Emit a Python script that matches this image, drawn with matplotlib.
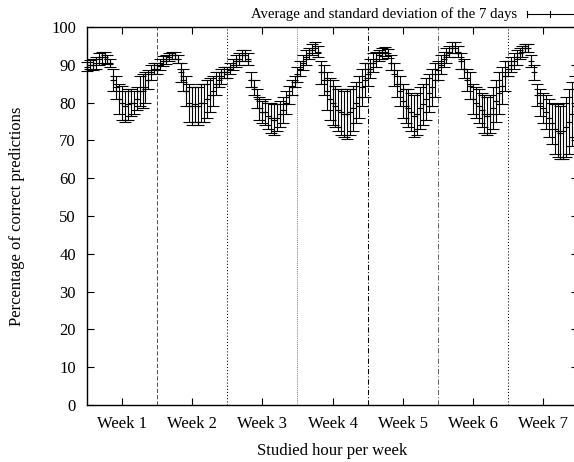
import numpy as np
import matplotlib
matplotlib.use("Agg")
import matplotlib.pyplot as plt
from matplotlib.lines import Line2D


plt.rcParams['font.family'] = ['Liberation Serif', 'DejaVu Serif']

week_labels = ["Week 1", "Week 2", "Week 3", "Week 4", "Week 5", "Week 6", "Week 7"]
hours_per_week = 24

# mean / std per hour, one list per week
w1_mean = [89.5, 90, 90, 90.5, 91.5, 92, 92, 91.5, 90.5, 86, 84, 81,
           80, 79, 79.5, 80, 80, 81, 83, 83, 84, 86, 88, 89]
w1_std = [1.2, 1.2, 1.5, 1.5, 1.5, 1.5, 1.5, 1.2, 1, 3, 3, 4,
          4.5, 4, 4, 3.5, 3, 3, 4, 4.5, 4, 2.5, 2, 1.5]
w2_mean = [89, 90, 91, 91.5, 92, 92.5, 92.5, 91.5, 88, 86, 83, 80,
           79, 79.5, 79, 80, 80, 81, 82, 83, 85, 86, 87, 88]
w2_std = [1.5, 1.5, 1.2, 1.2, 1, 1, 1, 1, 2.5, 3, 4, 5,
          5, 4.5, 5, 5, 5, 5, 4.5, 4, 3, 2, 2, 1.5]
w3_mean = [88, 89, 90, 91, 91.5, 92.5, 92.5, 91.5, 86, 84, 81, 78.5,
           77.5, 77.5, 76.5, 76, 75.5, 76, 77, 78, 80, 82, 84, 85.5]
w3_std = [1.5, 1.5, 1.5, 1.5, 1.5, 1.5, 1.5, 1.5, 2, 2, 2.5, 3,
          3, 3.5, 3.5, 4, 4, 3.5, 3.5, 3.5, 3, 2.5, 2, 1.5]
w4_mean = [87.5, 89, 90.5, 92, 93, 94, 94.5, 93.5, 88, 86, 83, 81,
           80, 79, 78, 77.5, 77, 77, 77.5, 78.5, 80, 81.5, 84, 86]
w4_std = [2, 2, 2, 2, 1.5, 1.5, 1.5, 1.5, 3, 4, 5, 5.5,
          6, 5.5, 5.5, 6, 6, 6.5, 6, 6, 5.5, 5.5, 5, 4.5]
w5_mean = [87.5, 89, 90.5, 91.5, 92.5, 93, 93.5, 93, 90.5, 87.5, 85, 83,
           80.5, 79, 78.5, 77.5, 76.5, 77, 78.5, 79.5, 81, 82.5, 84, 86]
w5_std = [3, 2.5, 2.5, 2, 1.5, 1.5, 1.2, 1.2, 2, 3, 3.5, 4,
          4.5, 4.5, 5, 5, 5.5, 5.5, 5.5, 5.5, 5.5, 5, 5, 4.5]
w6_mean = [88.5, 90, 91.5, 92.5, 93.5, 94.5, 94.5, 93.5, 91, 89, 86, 84.5,
           81, 80, 79, 78, 77, 76.5, 77, 78.5, 80.5, 82.5, 84.5, 87]
w6_std = [2.5, 2.5, 2, 2, 1.5, 1.5, 1.5, 1.5, 2, 2.5, 3, 3.5,
          4, 4, 4.5, 4.5, 5, 5, 5, 5.5, 5.5, 5.5, 5, 4]
w7_mean = [89, 90, 91, 92, 93, 93.5, 94.5, 94.5, 91, 88, 82, 80,
           78.5, 77.5, 76, 74.5, 73, 72.5, 72, 72.5, 73.5, 75, 77, 79]
w7_std = [2, 2, 2, 2, 1.5, 1.5, 1, 1, 1.5, 2, 3, 3.5,
          4, 4.5, 5, 5.5, 6.5, 7, 7, 7.5, 8, 8.5, 8.5, 8]

means = np.array(w1_mean + w2_mean + w3_mean + w4_mean + w5_mean + w6_mean + w7_mean)
stds = np.array(w1_std + w2_std + w3_std + w4_std + w5_std + w6_std + w7_std)
hours = np.arange(len(means))

# week separator styles (gnuplot-ish)
sep_styles = [((0, (4, 2)), "#555555"), ((0, (1, 2)), "black"), ((0, (1, 1)), "#888888"),
              ((0, (5, 2, 1, 2)), "black"), ((0, (5, 2, 1, 2)), "#666666"), ((0, (1, 2)), "black")]

fig = plt.figure(figsize=(5.74, 4.62), dpi=100)
# plot box runs past the right edge, like the cropped original
ax = fig.add_axes([87 / 574, 57 / 462, 491 / 574, 378 / 462])

for k, (ls, col) in enumerate(sep_styles):
    ax.axvline((k + 1) * hours_per_week, color=col, linestyle=ls, linewidth=0.75)

ax.errorbar(hours, means, yerr=stds, fmt='+', color='black', ms=4, mew=0.8,
            elinewidth=0.8, capsize=4, capthick=0.8, clip_on=False)

ax.set_xlim(0, 168)
ax.set_ylim(0, 100)
ax.set_yticks(np.arange(0, 101, 10))
ax.set_xticks(np.arange(len(week_labels)) * hours_per_week + hours_per_week / 2)
ax.set_xticklabels(week_labels)
ax.tick_params(direction='in', top=True, right=True, labelsize=12, length=5, width=0.8, pad=8)
ax.tick_params(axis='y', pad=8)
for s in ax.spines.values():
    s.set_linewidth(1.0)

ax.set_xlabel("Studied hour per week", fontsize=12, labelpad=8)
ax.set_ylabel("Percentage of correct predictions", fontsize=12, labelpad=19)

# key at top right, outside the box
ky = 1 - 14 / 462
fig.text(517 / 574, ky, "Average and standard deviation of the 7 days",
         ha='right', va='center', fontsize=10.6)
fig.add_artist(Line2D([527 / 574, 574 / 574], [ky, ky], color='black', lw=0.8))
for kx in [527, 550]:
    fig.add_artist(Line2D([kx / 574, kx / 574], [ky - 3 / 462, ky + 3 / 462], color='black', lw=0.8))

fig.savefig("out.png", dpi=100)
